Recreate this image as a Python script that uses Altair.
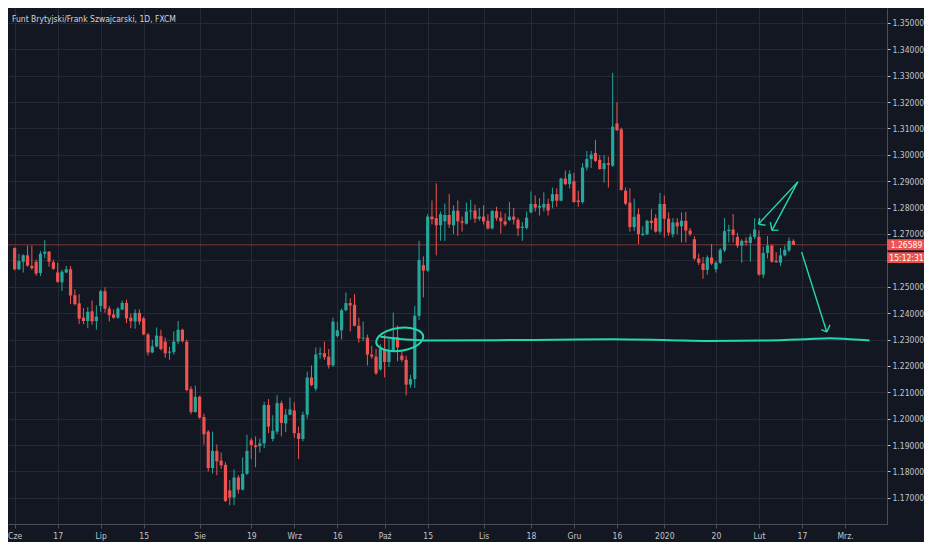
import altair as alt
import pandas as pd

TITLE = "Funt Brytyjski/Frank Szwajcarski, 1D, FXCM"

opens = [1.2647,1.2566,1.2595,1.2619,1.2579,1.2595,1.2552,1.2625,1.2633,1.2593,
         1.2554,1.2517,1.2554,1.2566,1.2468,1.2437,1.2383,1.2370,1.2407,1.2370,
         1.2427,1.2483,1.2417,1.2395,1.2383,1.2414,1.2439,1.2383,1.2368,1.2401,
         1.2380,1.2319,1.2251,1.2274,1.2313,1.2292,1.2250,1.2252,1.2292,1.2337,
         1.2292,1.2113,1.2025,1.2083,1.2006,1.1951,1.1813,1.1878,1.1841,1.1825,
         1.1728,1.1701,1.1777,1.1731,1.1791,1.1918,1.1899,1.1896,1.1906,1.2052,
         1.1923,1.1951,1.2059,1.1982,1.2015,1.2031,1.1945,1.1923,1.2015,1.2156,
         1.2113,1.2243,1.2248,1.2235,1.2202,1.2313,1.2335,1.2411,1.2438,1.2432,
         1.2352,1.2304,1.2307,1.2243,1.2235,1.2187,1.2264,1.2215,1.2258,1.2309,
         1.2239,1.2223,1.2129,1.2150,1.2390,1.2582,1.2561,1.2766,1.2760,1.2733,
         1.2748,1.2772,1.2733,1.2788,1.2748,1.2739,1.2785,1.2789,1.2758,1.2766,
         1.2750,1.2721,1.2787,1.2762,1.2748,1.2752,1.2766,1.2754,1.2723,1.2723,
         1.2782,1.2814,1.2800,1.2800,1.2814,1.2824,1.2851,1.2826,1.2910,1.2889,
         1.2900,1.2827,1.2821,1.2952,1.2984,1.3007,1.2981,1.2946,1.2968,1.2959,
         1.3119,1.3097,1.2864,1.2819,1.2726,1.2775,1.2696,1.2699,1.2750,1.2760,
         1.2709,1.2814,1.2758,1.2699,1.2744,1.2729,1.2750,1.2713,1.2680,1.2607,
         1.2588,1.2564,1.2611,1.2566,1.2591,1.2638,1.2711,1.2717,1.2689,1.2656,
         1.2674,1.2666,1.2689,1.2689,1.2546,1.2628,1.2656,1.2598,1.2591,1.2619,
         1.2638,1.2674]
highs = [1.2650,1.2625,1.2623,1.2656,1.2656,1.2603,1.2635,1.2677,1.2635,1.2603,
         1.2591,1.2564,1.2579,1.2579,1.2490,1.2472,1.2419,1.2423,1.2448,1.2429,
         1.2488,1.2498,1.2427,1.2414,1.2423,1.2448,1.2451,1.2399,1.2414,1.2414,
         1.2386,1.2325,1.2299,1.2346,1.2337,1.2307,1.2272,1.2331,1.2370,1.2341,
         1.2300,1.2123,1.2125,1.2087,1.2019,1.1957,1.1951,1.1902,1.1872,1.1835,
         1.1767,1.1808,1.1786,1.1853,1.1939,1.1927,1.1933,1.1924,1.2064,1.2074,
         1.2013,1.2089,1.2068,1.2037,1.2080,1.2062,1.1970,1.2027,1.2178,1.2202,
         1.2270,1.2270,1.2292,1.2264,1.2383,1.2368,1.2417,1.2478,1.2456,1.2472,
         1.2383,1.2368,1.2319,1.2276,1.2264,1.2282,1.2319,1.2301,1.2402,1.2353,
         1.2260,1.2239,1.2166,1.2427,1.2674,1.2615,1.2775,1.2827,1.2892,1.2785,
         1.2815,1.2852,1.2809,1.2827,1.2766,1.2819,1.2830,1.2811,1.2799,1.2809,
         1.2775,1.2791,1.2803,1.2785,1.2778,1.2821,1.2799,1.2762,1.2745,1.2785,
         1.2861,1.2846,1.2836,1.2858,1.2834,1.2876,1.2873,1.2913,1.2941,1.2941,
         1.2932,1.2864,1.2968,1.3015,1.3015,1.3057,1.2999,1.2999,1.2993,1.3311,
         1.3199,1.3103,1.2876,1.2873,1.2834,1.2797,1.2729,1.2754,1.2794,1.2775,
         1.2856,1.2846,1.2782,1.2760,1.2760,1.2782,1.2784,1.2723,1.2692,1.2625,
         1.2613,1.2619,1.2662,1.2598,1.2647,1.2760,1.2735,1.2775,1.2705,1.2680,
         1.2687,1.2701,1.2760,1.2713,1.2652,1.2692,1.2660,1.2631,1.2647,1.2656,
         1.2687,1.2680]
lows = [1.2562,1.2564,1.2554,1.2576,1.2564,1.2542,1.2540,1.2608,1.2576,1.2564,
        1.2515,1.2484,1.2552,1.2434,1.2429,1.2358,1.2358,1.2343,1.2356,1.2337,
        1.2405,1.2402,1.2368,1.2378,1.2378,1.2411,1.2362,1.2343,1.2341,1.2356,
        1.2316,1.2239,1.2248,1.2270,1.2258,1.2231,1.2223,1.2243,1.2282,1.2288,
        1.2104,1.2017,1.2023,1.2000,1.1902,1.1800,1.1792,1.1786,1.1810,1.1684,
        1.1672,1.1672,1.1716,1.1728,1.1786,1.1847,1.1816,1.1872,1.1888,1.1945,
        1.1914,1.1941,1.1933,1.1949,1.2013,1.1927,1.1847,1.1914,1.2000,1.2123,
        1.2104,1.2227,1.2223,1.2190,1.2196,1.2307,1.2300,1.2407,1.2331,1.2350,
        1.2288,1.2294,1.2202,1.2227,1.2166,1.2182,1.2157,1.2196,1.2252,1.2218,
        1.2215,1.2088,1.2117,1.2117,1.2374,1.2460,1.2557,1.2736,1.2619,1.2674,
        1.2674,1.2723,1.2699,1.2693,1.2709,1.2736,1.2754,1.2742,1.2750,1.2736,
        1.2717,1.2717,1.2750,1.2701,1.2729,1.2750,1.2736,1.2693,1.2674,1.2717,
        1.2778,1.2785,1.2770,1.2785,1.2770,1.2797,1.2803,1.2824,1.2885,1.2873,
        1.2819,1.2803,1.2815,1.2941,1.2950,1.2973,1.2944,1.2895,1.2876,1.2954,
        1.3091,1.2864,1.2809,1.2709,1.2711,1.2662,1.2692,1.2696,1.2717,1.2705,
        1.2699,1.2687,1.2693,1.2687,1.2699,1.2668,1.2668,1.2692,1.2601,1.2582,
        1.2530,1.2546,1.2582,1.2554,1.2586,1.2631,1.2668,1.2668,1.2647,1.2591,
        1.2656,1.2595,1.2680,1.2542,1.2533,1.2607,1.2591,1.2591,1.2579,1.2615,
        1.2631,1.2659]
closes = [1.2566,1.2597,1.2619,1.2580,1.2570,1.2550,1.2625,1.2633,1.2595,1.2568,
          1.2519,1.2557,1.2566,1.2467,1.2434,1.2379,1.2370,1.2405,1.2369,1.2387,
          1.2483,1.2417,1.2392,1.2383,1.2417,1.2439,1.2380,1.2370,1.2401,1.2368,
          1.2319,1.2251,1.2274,1.2315,1.2264,1.2248,1.2254,1.2292,1.2337,1.2294,
          1.2108,1.2025,1.2083,1.2004,1.1941,1.1813,1.1878,1.1838,1.1823,1.1688,
          1.1701,1.1777,1.1731,1.1791,1.1878,1.1900,1.1892,1.1906,1.2052,1.1970,
          1.1954,1.2059,1.1984,1.2015,1.2035,1.1945,1.1923,1.2015,1.2156,1.2127,
          1.2243,1.2248,1.2233,1.2202,1.2368,1.2335,1.2411,1.2438,1.2429,1.2352,
          1.2304,1.2307,1.2243,1.2235,1.2172,1.2264,1.2215,1.2258,1.2309,1.2270,
          1.2223,1.2129,1.2150,1.2390,1.2601,1.2561,1.2766,1.2756,1.2733,1.2775,
          1.2772,1.2736,1.2788,1.2748,1.2743,1.2785,1.2789,1.2758,1.2766,1.2748,
          1.2721,1.2787,1.2760,1.2748,1.2736,1.2766,1.2754,1.2721,1.2728,1.2762,
          1.2814,1.2800,1.2807,1.2814,1.2789,1.2851,1.2826,1.2910,1.2889,1.2928,
          1.2821,1.2821,1.2952,1.2984,1.3001,1.2977,1.2946,1.2968,1.2962,1.3107,
          1.3093,1.2867,1.2815,1.2726,1.2765,1.2699,1.2701,1.2750,1.2742,1.2709,
          1.2814,1.2758,1.2705,1.2744,1.2729,1.2750,1.2713,1.2699,1.2607,1.2591,
          1.2564,1.2611,1.2588,1.2591,1.2640,1.2711,1.2716,1.2696,1.2656,1.2674,
          1.2668,1.2689,1.2717,1.2546,1.2628,1.2656,1.2595,1.2593,1.2619,1.2640,
          1.2674,1.26589]

# bar index of each date label (Jun 3 2019 = bar 1, weekdays only)
x_tick_index = [1, 11, 21, 31, 44, 56, 66, 76, 87, 97, 110, 121, 131, 141, 152, 164, 174, 184, 194]
x_tick_labels = ["Cze", "17", "Lip", "15", "Sie", "19", "Wrz", "16", "Paź", "15",
                 "Lis", "18", "Gru", "16", "2020", "20", "Lut", "17", "Mrz."]
price_ticks = [1.17, 1.18, 1.19, 1.20, 1.21, 1.22, 1.23, 1.24, 1.25, 1.26,
               1.27, 1.28, 1.29, 1.30, 1.31, 1.32, 1.33, 1.34, 1.35]
hidden_price_label = 1.26  # covered by the countdown box in the original
last_price = 1.26589
countdown = "15:12:31"

# hand-drawn annotations (bar index, price)
line_i = [86.0, 96.1, 113.0, 126.5, 139.9, 153.4, 162.4, 175.9, 184.9, 190.5, 195.0, 199.7]
line_p = [1.23103, 1.22967, 1.22974, 1.22993, 1.23011, 1.22974, 1.22945, 1.22963, 1.23011, 1.23048, 1.23011, 1.22967]
ell_i = [95.97, 95.40, 93.54, 90.87, 88.08, 85.97, 85.04, 85.61, 87.47, 90.15, 92.93, 95.04]
ell_p = [1.23125, 1.22893, 1.22691, 1.22574, 1.22570, 1.22684, 1.22882, 1.23114, 1.23316, 1.23434, 1.23438, 1.23324]
arr_i1 = [183.02, 173.88, 173.88, 183.02, 177.02, 177.02, 183.92, 189.76, 189.76]
arr_p1 = [1.28974, 1.27379, 1.27379, 1.28974, 1.27136, 1.27136, 1.26313, 1.23287, 1.23287]
arr_i2 = [173.88, 174.17, 175.52, 177.02, 176.64, 178.53, 189.76, 188.48, 190.51]
arr_p2 = [1.27379, 1.27599, 1.27331, 1.27136, 1.27452, 1.27147, 1.23287, 1.23371, 1.23555]

GREEN = "#26a69a"
RED = "#ef5350"
TEAL = "#22d8b0"
BG = "#131722"
GRID = "#262a36"
AXC = "#4a4e5a"
TXT = "#c2c5cc"
FONT = "Liberation Sans Narrow, DejaVu Sans Condensed, Roboto Condensed, Roboto, sans-serif"
FS = 8.5

W, H = 879, 516
RP = 37  # right axis strip

n = len(opens)
df = pd.DataFrame({"i": list(range(1, n + 1)), "open": opens, "high": highs,
                   "low": lows, "close": closes})
df["dir"] = ["up" if c >= o else "down" for o, c in zip(opens, closes)]

xscale = alt.Scale(domain=[0.62, 202.6], nice=False, zero=False)
yscale = alt.Scale(domain=[1.16007, 1.35566], nice=False, zero=False)

labels_js = "[" + ",".join("'" + s + "'" for s in x_tick_labels) + "]"
idx_js = "[" + ",".join(str(v) for v in x_tick_index) + "]"

x_axis = alt.Axis(values=x_tick_index, labelExpr=labels_js + "[indexof(" + idx_js + ", datum.value)]",
                  title=None, grid=True, gridColor=GRID, gridWidth=1, domainColor=AXC,
                  tickColor=AXC, tickSize=4, labelColor=TXT, labelFontSize=FS,
                  labelPadding=3, labelFont=FONT, labelOverlap=False, labelFlush=False)
y_axis = alt.Axis(orient="right", values=price_ticks, format=".5f", title=None, grid=True,
                  labelExpr=f"abs(datum.value - {hidden_price_label}) < 0.0001 ? '' : datum.label",
                  gridColor=GRID, gridWidth=1, domainColor=AXC, tickColor=TXT, tickSize=3,
                  labelColor=TXT, labelFontSize=FS, labelPadding=2, labelFont=FONT,
                  labelOverlap=False)


def X(field):
    return alt.X(field, scale=xscale, axis=x_axis)


def Y(field):
    return alt.Y(field, scale=yscale, axis=y_axis)


color_enc = alt.Color("dir:N", scale=alt.Scale(domain=["up", "down"], range=[GREEN, RED]), legend=None)

base = alt.Chart(df)
wicks = base.mark_rule(strokeWidth=1).encode(x=X("i:Q"), y=Y("low:Q"), y2="high:Q", color=color_enc)
bodies = base.mark_bar(size=3.2).encode(x=X("i:Q"), y=Y("open:Q"), y2="close:Q", color=color_enc)

lp = pd.DataFrame({"p": [last_price], "label": [f"{last_price:.5f}"], "cd": [countdown]})
price_line = alt.Chart(lp).mark_rule(color=RED, opacity=0.5, strokeWidth=1).encode(y=Y("p:Q"))

half = RP / 2
rect_path = f"M-1,-{5.5 / half:.3f}L1,-{5.5 / half:.3f}L1,{5.5 / half:.3f}L-1,{5.5 / half:.3f}Z"
box1 = alt.Chart(lp).mark_point(shape=rect_path, size=RP * RP, filled=True, color=RED,
                                opacity=1, strokeWidth=0).encode(x=alt.value(W + half), y=Y("p:Q"))
box2 = alt.Chart(lp).mark_point(shape=rect_path, size=RP * RP, filled=True, color=RED,
                                opacity=1, strokeWidth=0, yOffset=12.8).encode(x=alt.value(W + half), y=Y("p:Q"))
txt1 = alt.Chart(lp).mark_text(color="#ffffff", fontSize=FS, font=FONT, align="center",
                               baseline="middle").encode(x=alt.value(W + half + 1), y=Y("p:Q"), text="label:N")
txt2 = alt.Chart(lp).mark_text(color="#ffffff", fontSize=FS, font=FONT, align="center",
                               baseline="middle", dy=12.8).encode(x=alt.value(W + half + 1), y=Y("p:Q"), text="cd:N")

ldf = pd.DataFrame({"i": line_i, "p": line_p, "k": list(range(len(line_i)))})
teal_line = alt.Chart(ldf).mark_line(color=TEAL, strokeWidth=2, interpolate="monotone").encode(
    x=X("i:Q"), y=Y("p:Q"), order="k:Q")

edf = pd.DataFrame({"i": ell_i, "p": ell_p, "k": list(range(len(ell_i)))})
ellipse = alt.Chart(edf).mark_line(color=TEAL, strokeWidth=2, interpolate="cardinal-closed").encode(
    x=X("i:Q"), y=Y("p:Q"), order="k:Q")

adf = pd.DataFrame({"i1": arr_i1, "p1": arr_p1, "i2": arr_i2, "p2": arr_p2})
arrows = alt.Chart(adf).mark_rule(color=TEAL, strokeWidth=1.4).encode(
    x=X("i1:Q"), y=Y("p1:Q"), x2="i2:Q", y2="p2:Q")

tdf = pd.DataFrame({"t": [TITLE]})
title = alt.Chart(tdf).mark_text(align="left", baseline="middle", color="#d1d4dc", fontSize=FS,
                                 font=FONT).encode(x=alt.value(4), y=alt.value(11), text="t:N")

chart = alt.layer(wicks, price_line, bodies, teal_line, ellipse, arrows, box1, box2, txt1, txt2, title).properties(
    width=W, height=H,
    autosize=alt.AutoSizeParams(type="none"),
    padding={"left": 0, "top": 0, "right": RP, "bottom": 18},
).configure(background=BG).configure_view(stroke=None)

chart.save("out.html", embed_options={"renderer": "svg", "actions": False})
